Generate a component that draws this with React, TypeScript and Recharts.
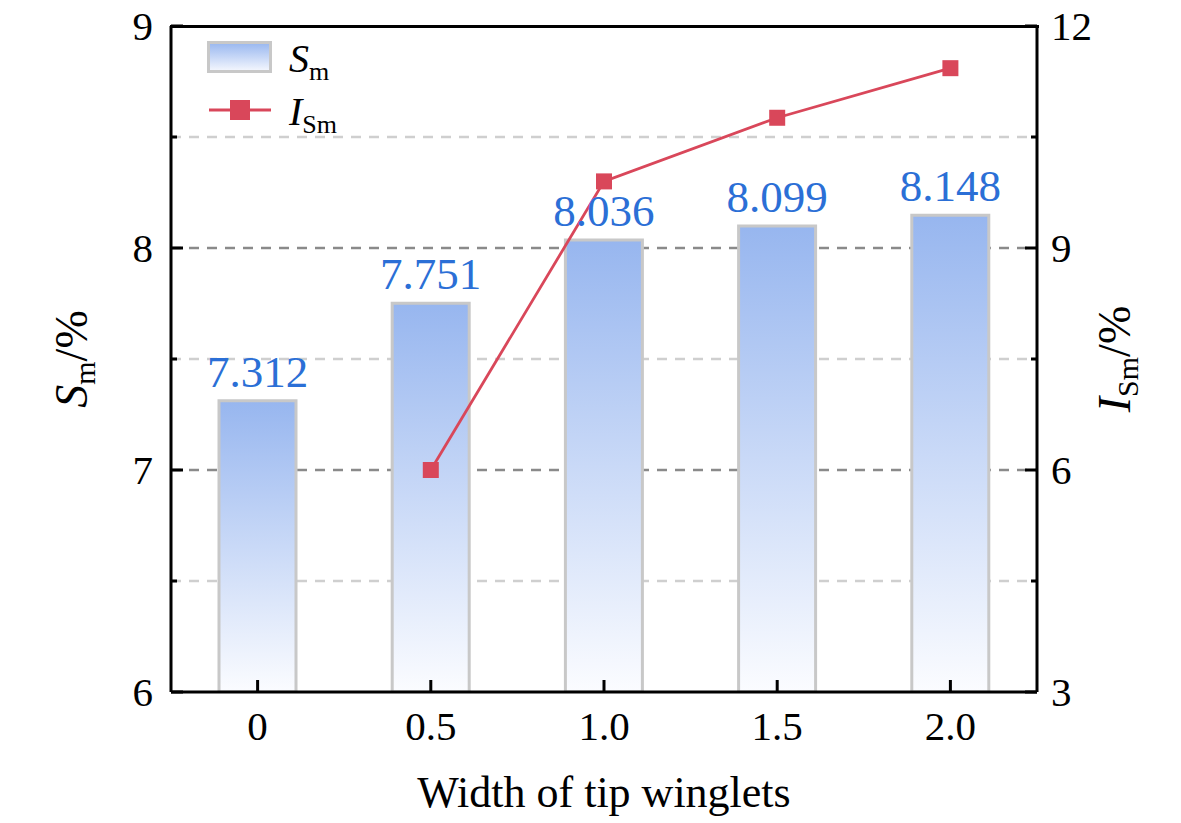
import React from 'react';
import {
  ComposedChart,
  Bar,
  Line,
  XAxis,
  YAxis,
  CartesianGrid,
  LabelList,
  Legend,
} from 'recharts';

const categories = ['0', '0.5', '1.0', '1.5', '2.0'];
const smValues = [7.312, 7.751, 8.036, 8.099, 8.148];
const ismValues: (number | null)[] = [null, 6.0, 9.9, 10.76, 11.43];
const leftTicks = [6, 6.5, 7, 7.5, 8, 8.5, 9];
const rightTicks = [3, 4.5, 6, 7.5, 9, 10.5, 12];

const data = categories.map((c, i) => ({ cat: c, sm: smValues[i], ism: ismValues[i] }));

const CHART_W = 1181;
const CHART_H = 823;
const LEFT_W = 171;
const RIGHT_W = 144;
const TOP_M = 26;
const PLOT_W = CHART_W - LEFT_W - RIGHT_W;

const FONT = '"Liberation Serif", "Times New Roman", Times, serif';
const RED = '#d9475a';
const BLUE_TEXT = '#2b6fd6';
const BAR_STROKE = '#c8c8c8';

const LeftTick = (props: any) => {
  const { x, y, payload } = props;
  const v = payload.value as number;
  const major = Number.isInteger(v);
  return (
    <g>
      <line x1={x} x2={x + (major ? 12 : 6)} y1={y} y2={y} stroke="#000" strokeWidth={3} />
      {major && (
        <text x={x - 18} y={y} dy="0.35em" textAnchor="end" fontFamily={FONT} fontSize={41} fill="#000">
          {v}
        </text>
      )}
    </g>
  );
};

const RightTick = (props: any) => {
  const { x, y, payload } = props;
  const v = payload.value as number;
  const major = Number.isInteger(v);
  return (
    <g>
      <line x1={x} x2={x - (major ? 12 : 6)} y1={y} y2={y} stroke="#000" strokeWidth={3} />
      {major && (
        <text x={x + 14} y={y} dy="0.35em" textAnchor="start" fontFamily={FONT} fontSize={41} fill="#000">
          {v}
        </text>
      )}
    </g>
  );
};

const BottomTick = (props: any) => {
  const { x, y, payload } = props;
  return (
    <g>
      <line x1={x} x2={x} y1={y} y2={y - 12} stroke="#000" strokeWidth={3} />
      <text x={x} y={y + 48} textAnchor="middle" fontFamily={FONT} fontSize={41} fill="#000">
        {payload.value}
      </text>
    </g>
  );
};

const gridLine = (props: any) => {
  const { x1, x2, y1, y2, index } = props;
  if (index === 0 || index >= leftTicks.length - 1) return <g key={`g-${index}`} />;
  const major = index % 2 === 0;
  return (
    <line
      key={`g-${index}`}
      x1={x1}
      x2={x2}
      y1={y1}
      y2={y2}
      stroke={major ? '#8a8a8a' : '#cfcfcf'}
      strokeWidth={2.5}
      strokeDasharray="10 8"
    />
  );
};

const LeftTitle = (props: any) => {
  const vb = props.viewBox || { x: 0, y: 26, width: 171, height: 666 };
  const cx = vb.x + 87;
  const cy = vb.y + vb.height / 2;
  return (
    <text
      x={cx}
      y={cy}
      textAnchor="middle"
      transform={`rotate(-90, ${cx}, ${cy})`}
      fontFamily={FONT}
      fontSize={46}
      fill="#000"
    >
      <tspan fontStyle="italic">S</tspan>
      <tspan fontSize={30} dy={8}>m</tspan>
      <tspan dy={-8}>/%</tspan>
    </text>
  );
};

const RightTitle = (props: any) => {
  const vb = props.viewBox || { x: 1037, y: 26, width: 144, height: 666 };
  const cx = vb.x + 93;
  const cy = vb.y + vb.height / 2;
  return (
    <text
      x={cx}
      y={cy}
      textAnchor="middle"
      transform={`rotate(-90, ${cx}, ${cy})`}
      fontFamily={FONT}
      fontSize={46}
      fill="#000"
    >
      <tspan fontStyle="italic">I</tspan>
      <tspan fontSize={30} dy={8}>Sm</tspan>
      <tspan dy={-8}>/%</tspan>
    </text>
  );
};

const BottomTitle = (props: any) => {
  const vb = props.viewBox || { x: 171, y: 692, width: 866, height: 131 };
  return (
    <text
      x={vb.x + vb.width / 2}
      y={vb.y + 115}
      textAnchor="middle"
      fontFamily={FONT}
      fontSize={44}
      fill="#000"
    >
      Width of tip winglets
    </text>
  );
};

const SquareDot = (props: any) => {
  const { cx, cy, index } = props;
  if (cx == null || cy == null || props.value == null) return <g key={`d-${index}`} />;
  return <rect key={`d-${index}`} x={cx - 8} y={cy - 8} width={16} height={16} fill={RED} />;
};

const LegendContent = () => (
  <svg width={200} height={110} style={{ display: 'block' }}>
    <defs>
      <linearGradient id="legGrad" x1="0" y1="0" x2="0" y2="1">
        <stop offset="0%" stopColor="#97b6ef" />
        <stop offset="100%" stopColor="#f6f8fe" />
      </linearGradient>
    </defs>
    <rect x={10.5} y={14.5} width={62} height={29} fill="url(#legGrad)" stroke={BAR_STROKE} strokeWidth={3} />
    <text x={91} y={44} fontFamily={FONT} fontSize={40} fill="#000">
      <tspan fontStyle="italic">S</tspan>
      <tspan fontSize={26} dy={8}>m</tspan>
    </text>
    <line x1={11} x2={73} y1={82} y2={82} stroke={RED} strokeWidth={3} />
    <rect x={32} y={72} width={20} height={20} fill={RED} />
    <text x={91} y={97} fontFamily={FONT} fontSize={40} fill="#000">
      <tspan fontStyle="italic">I</tspan>
      <tspan fontSize={26} dy={8}>Sm</tspan>
    </text>
  </svg>
);

export default function App() {
  return (
    <div style={{ position: 'absolute', left: 0, top: 0, width: CHART_W, height: CHART_H, background: '#fff' }}>
      <ComposedChart
        width={CHART_W}
        height={CHART_H}
        data={data}
        margin={{ top: TOP_M, right: 0, bottom: 0, left: 0 }}
        barCategoryGap={0}
      >
        <defs>
          <linearGradient id="barGrad" x1="0" y1="0" x2="0" y2="1">
            <stop offset="0%" stopColor="#97b6ef" />
            <stop offset="100%" stopColor="#fbfcff" />
          </linearGradient>
        </defs>
        <CartesianGrid yAxisId="left" vertical={false} horizontal={gridLine} />
        <XAxis
          dataKey="cat"
          height={131}
          axisLine={{ stroke: '#000', strokeWidth: 3 }}
          tickLine={false}
          tickSize={0}
          tickMargin={0}
          interval={0}
          tick={<BottomTick />}
          label={<BottomTitle />}
        />
        <YAxis
          yAxisId="left"
          orientation="left"
          width={LEFT_W}
          domain={[6, 9]}
          ticks={leftTicks}
          type="number"
          allowDataOverflow
          interval={0}
          axisLine={{ stroke: '#000', strokeWidth: 3 }}
          tickLine={false}
          tickSize={0}
          tickMargin={0}
          tick={<LeftTick />}
          label={<LeftTitle />}
        />
        <YAxis
          yAxisId="right"
          orientation="right"
          width={RIGHT_W}
          domain={[3, 12]}
          ticks={rightTicks}
          type="number"
          allowDataOverflow
          interval={0}
          axisLine={{ stroke: '#000', strokeWidth: 3 }}
          tickLine={false}
          tickSize={0}
          tickMargin={0}
          tick={<RightTick />}
          label={<RightTitle />}
        />
        <Legend
          layout="horizontal"
          verticalAlign="middle"
          align="center"
          content={<LegendContent />}
          wrapperStyle={{ position: 'absolute', left: 198, top: 28, width: 200, height: 110 }}
        />
        <Bar
          yAxisId="left"
          dataKey="sm"
          barSize={77}
          fill="url(#barGrad)"
          stroke={BAR_STROKE}
          strokeWidth={3}
          isAnimationActive={false}
        >
          <LabelList
            dataKey="sm"
            position="top"
            offset={14}
            fill={BLUE_TEXT}
            fontSize={45}
            fontFamily={FONT}
            formatter={(v: any) => Number(v).toFixed(3)}
          />
        </Bar>
        <Line
          yAxisId="right"
          dataKey="ism"
          stroke={RED}
          strokeWidth={2.8}
          dot={<SquareDot />}
          activeDot={false}
          connectNulls={false}
          isAnimationActive={false}
        />
      </ComposedChart>
      {/* top frame of the plot box, drawn from the layout constants */}
      <div
        style={{
          position: 'absolute',
          left: LEFT_W - 1.5,
          top: TOP_M - 1.5,
          width: PLOT_W + 3,
          height: 3,
          background: '#000',
          pointerEvents: 'none',
        }}
      />
    </div>
  );
}
